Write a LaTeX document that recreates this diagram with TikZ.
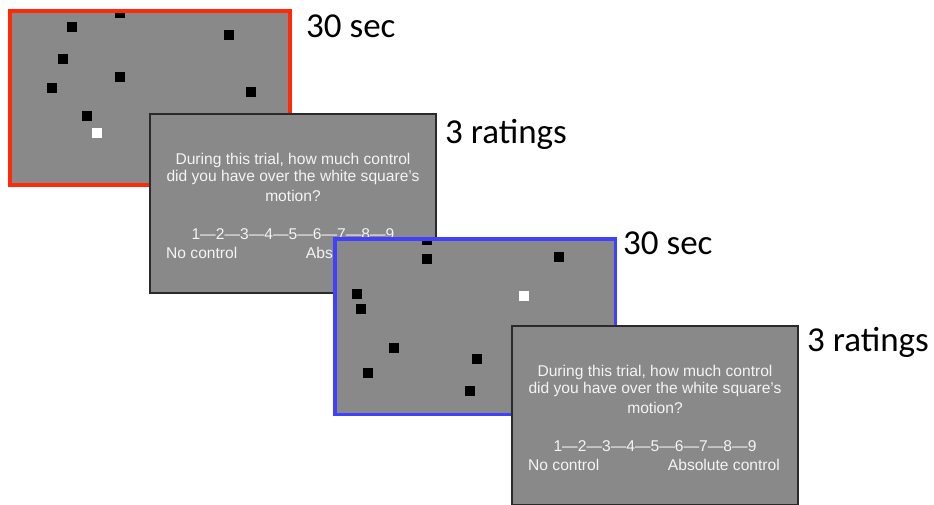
\documentclass[tikz,border=0pt]{standalone}
\usepackage{fontspec}
\setmainfont{Liberation Sans}
\newfontfamily\labelfont{Carlito}
\definecolor{screengray}{HTML}{898989}
\definecolor{framered}{HTML}{FF2A0A}
\definecolor{frameblue}{HTML}{4040FF}
\definecolor{promptwhite}{HTML}{F4F4F4}
\definecolor{paneledge}{HTML}{2A2A2A}

% one rating screen: #1 = name prefix, #2 = top-left corner
\newcommand\ratingpanel[2]{%
  \begin{scope}[shift={#2}]
    \node[ratingbox] (#1-frame) at (0,0) {};
    \node[prompt] (#1-l1) at (143,50) {During this trial, how much control};
    \node[prompt] (#1-l2) at (143,67.5) {did you have over the white square’s};
    \node[prompt] (#1-l3) at (143,87) {motion?};
    \node[prompt] (#1-scale) at (143,125) {1—2—3—4—5—6—7—8—9};
    \node[prompt, anchor=base west] (#1-lo) at (16,144) {No control};
    \node[prompt, anchor=base east] (#1-hi) at (268,144) {Absolute control};
  \end{scope}}

\begin{document}
\begin{tikzpicture}[x=1pt, y=-1pt,
  ratingbox/.style={draw=paneledge, fill=screengray, line width=1.2pt,
    anchor=north west, minimum width=286pt, minimum height=179pt,
    inner sep=0pt, outer sep=0pt},
  prompt/.style={text=promptwhite, anchor=base, inner sep=0pt,
    font=\fontsize{15.6}{18}\selectfont},
  durlabel/.style={anchor=base west, inner sep=0pt,
    font=\labelfont\fontsize{35}{40}\selectfont},
  dot/.style={fill=black},
  target/.style={fill=white}]
\useasboundingbox (0,0) rectangle (934,504);

% first motion screen (red frame)
\begin{scope}
  \clip (10,11) rectangle (290,185);
  \fill[screengray] (10,11) rectangle (290,185);
  \foreach \x/\y in {120/13.3, 72.3/26.7, 229.3/35.3, 63.3/59, 120.3/76.7,
                     52.3/87.7, 250.7/91.7, 87.3/116.3}
    \fill[dot] (\x-5,\y-5) rectangle ++(10,10);
  \fill[target] (97.3-5,133.3-5) rectangle ++(10,10);
\end{scope}
\draw[framered, line width=3.4pt] (10,11) rectangle (290,185);

% first rating screen
\ratingpanel{qa}{(150,114)}

% second motion screen (blue frame)
\begin{scope}
  \clip (335,239) rectangle (615.5,414.5);
  \fill[screengray] (335,239) rectangle (615.5,414.5);
  \foreach \x/\y in {426.7/240, 426.7/259.3, 558.7/257, 357/294, 360.7/309.3,
                     394.3/348.3, 477.3/358.7, 367.7/373, 470.3/391}
    \fill[dot] (\x-5,\y-5) rectangle ++(10,10);
  \fill[target] (524.3-5,296-5) rectangle ++(10,10);
\end{scope}
\draw[frameblue, line width=3.4pt] (335,239) rectangle (615.5,414.5);

% second rating screen
\ratingpanel{qb}{(512,326)}

% phase durations
\node[durlabel] (d1) at (306,37) {30 sec};
\node[durlabel] (r1) at (445,143) {3 ratings};
\node[durlabel] (d2) at (623,254) {30 sec};
\node[durlabel] (r2) at (807,351) {3 ratings};
\end{tikzpicture}
\end{document}
